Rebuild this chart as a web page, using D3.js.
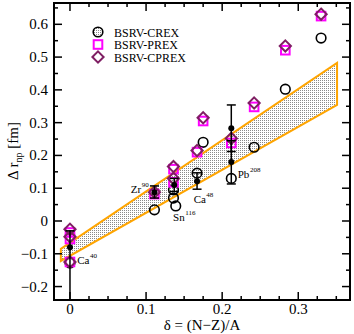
<!DOCTYPE html>
<html><head><meta charset="utf-8">
<script src="https://cdn.jsdelivr.net/npm/d3@7/dist/d3.min.js"></script>
<style>body{margin:0;background:#fff}svg{display:block}text{font-family:"Liberation Serif","Times New Roman",serif}</style>
</head><body>
<svg id="c" width="354" height="334"></svg>
<script>
// ---- data ----
const seriesNames = ["BSRV-CREX", "BSRV-PREX", "BSRV-CPREX"];
const crexX = [0, 0.111, 0.136, 0.136, 0.139, 0.167, 0.175, 0.212, 0.242, 0.283, 0.330];
const crexY = [-0.128, 0.034, 0.095, 0.070, 0.046, 0.146, 0.240, 0.130, 0.225, 0.402, 0.558];
const prexX = [0, 0, 0, 0.111, 0.136, 0.136, 0.167, 0.175, 0.212, 0.242, 0.283, 0.330];
const prexY = [-0.035, -0.055, -0.125, 0.082, 0.158, 0.118, 0.210, 0.305, 0.238, 0.348, 0.521, 0.625];
const cprexX = [0, 0, 0, 0.111, 0.136, 0.136, 0.167, 0.175, 0.212, 0.242, 0.283, 0.330];
const cprexY = [-0.025, -0.048, -0.125, 0.088, 0.166, 0.130, 0.215, 0.315, 0.252, 0.360, 0.534, 0.631];
// experimental values with error bar ends
const expX = [0, 0.111, 0.137, 0.167, 0.212, 0.212];
const expY = [-0.080, 0.088, 0.110, 0.121, 0.283, 0.180];
const expLo = [-0.241, 0.070, 0.090, 0.097, 0.212, 0.113];
const expHi = [-0.030, 0.107, 0.130, 0.147, 0.354, 0.245];
const expCapLo = [false, true, true, true, true, true];
// band (polygon corners)
const bandX = [-0.012, 0.351, 0.351, -0.012];
const bandY = [-0.085, 0.482, 0.354, -0.122];
// nuclei labels
const nucName = ["Ca", "Zr", "Sn", "Ca", "Pb"];
const nucMass = ["40", "90", "116", "48", "208"];
const nucX = [0.0095, 0.080, 0.1355, 0.1625, 0.2205];
const nucY = [-0.130, 0.084, 0.000, 0.055, 0.130];
const xTicks = [0, 0.1, 0.2, 0.3];
const yTicks = [-0.2, -0.1, 0, 0.1, 0.2, 0.3, 0.4, 0.5, 0.6];

// ---- layout ----
const svg = d3.select("#c");
const L = 54, R = 350, T = 3, B = 300;
const x = d3.scaleLinear().domain([-0.021, 0.368]).range([L, R]);
const y = d3.scaleLinear().domain([-0.241, 0.665]).range([B, T]);

const defs = svg.append("defs");
const pat = defs.append("pattern").attr("id", "stip").attr("width", 2).attr("height", 2)
  .attr("patternUnits", "userSpaceOnUse");
pat.append("rect").attr("width", 2).attr("height", 2).attr("fill", "#fff");
pat.append("rect").attr("width", 1).attr("height", 1).attr("fill", "#8a8a8a");
defs.append("clipPath").attr("id", "clip").append("rect")
  .attr("x", L).attr("y", T).attr("width", R - L).attr("height", B - T);

const g = svg.append("g").attr("clip-path", "url(#clip)");

// band
g.append("polygon")
  .attr("points", bandX.map((v, i) => [x(v), y(bandY[i])].join(",")).join(" "))
  .attr("fill", "url(#stip)").attr("stroke", "#ffa500").attr("stroke-width", 2)
  .attr("stroke-linejoin", "miter");

// symbols
const circ = (sel, cx, cy, fill) => sel.append("circle").attr("cx", cx).attr("cy", cy).attr("r", 4.8)
  .attr("fill", fill).attr("stroke", "#000").attr("stroke-width", 1.6);
const sq = (sel, cx, cy) => sel.append("rect").attr("x", cx - 4.3).attr("y", cy - 4.3)
  .attr("width", 8.6).attr("height", 8.6).attr("fill", "none").attr("stroke", "#ff00ff").attr("stroke-width", 2);
const dia = (sel, cx, cy) => sel.append("path")
  .attr("d", `M${cx},${cy - 5.6}L${cx + 5.6},${cy}L${cx},${cy + 5.6}L${cx - 5.6},${cy}Z`)
  .attr("fill", "none").attr("stroke", "#7f1f63").attr("stroke-width", 2);

crexX.forEach((v, i) => circ(g, x(v), y(crexY[i]), "none"));
prexX.forEach((v, i) => sq(g, x(v), y(prexY[i])));
cprexX.forEach((v, i) => dia(g, x(v), y(cprexY[i])));

// experimental
expX.forEach((v, i) => {
  const cx = x(v);
  g.append("line").attr("x1", cx).attr("x2", cx).attr("y1", y(expLo[i])).attr("y2", y(expHi[i]))
    .attr("stroke", "#000").attr("stroke-width", 1.5);
  if (expCapLo[i]) g.append("line").attr("x1", cx - 4.5).attr("x2", cx + 4.5)
    .attr("y1", y(expLo[i])).attr("y2", y(expLo[i])).attr("stroke", "#000").attr("stroke-width", 1.5);
  g.append("line").attr("x1", cx - 4.5).attr("x2", cx + 4.5)
    .attr("y1", y(expHi[i])).attr("y2", y(expHi[i])).attr("stroke", "#000").attr("stroke-width", 1.5);
  g.append("circle").attr("cx", cx).attr("cy", y(expY[i])).attr("r", 3).attr("fill", "#000");
});

// nucleus labels
nucName.forEach((n, i) => {
  const t = svg.append("text").attr("x", x(nucX[i])).attr("y", y(nucY[i]))
    .attr("font-size", 11).attr("fill", "#000");
  t.append("tspan").text(n);
  t.append("tspan").attr("dy", -6).attr("dx", 0.5).attr("font-size", 7).text(nucMass[i]);
});

// axes frame
svg.append("rect").attr("x", L).attr("y", T).attr("width", R - L).attr("height", B - T)
  .attr("fill", "none").attr("stroke", "#000").attr("stroke-width", 2);

const tk = svg.append("g").attr("stroke", "#000").attr("stroke-width", 1.5);
d3.range(0, 0.3501, 0.025).forEach(v => {
  const major = Math.abs(v * 10 - Math.round(v * 10)) < 1e-6;
  const len = major ? 8 : 4, px = x(v);
  tk.append("line").attr("x1", px).attr("x2", px).attr("y1", B).attr("y2", B - len);
  tk.append("line").attr("x1", px).attr("x2", px).attr("y1", T).attr("y2", T + len);
});
d3.range(-0.2, 0.6501, 0.05).forEach(v => {
  const major = Math.abs(v * 10 - Math.round(v * 10)) < 1e-6;
  const len = major ? 8 : 4, py = y(v);
  tk.append("line").attr("x1", L).attr("x2", L + len).attr("y1", py).attr("y2", py);
  tk.append("line").attr("x1", R).attr("x2", R - len).attr("y1", py).attr("y2", py);
});

const fmt = d3.format(".1f");
xTicks.forEach(v => svg.append("text").attr("x", x(v)).attr("y", 314).attr("text-anchor", "middle")
  .attr("font-size", 15).text(v === 0 ? "0" : fmt(v)));
yTicks.forEach(v => svg.append("text").attr("x", 48).attr("y", y(v) + 5).attr("text-anchor", "end")
  .attr("font-size", 15).text(v === 0 ? "0" : fmt(v)));

// axis titles
svg.append("text").attr("x", 202).attr("y", 330).attr("text-anchor", "middle").attr("font-size", 15)
  .text("δ = (N−Z)/A");
const yt = svg.append("text").attr("transform", "translate(18,151) rotate(-90)").attr("text-anchor", "middle")
  .attr("font-size", 15);
yt.append("tspan").text("Δ r");
yt.append("tspan").attr("dy", 4).attr("font-size", 10).text("np");
yt.append("tspan").attr("dy", -4).text(" [fm]");

// legend
const lg = svg.append("g");
const ly = [32, 44.5, 57];
circ(lg, 98, ly[0], "url(#stip)");
sq(lg, 98, ly[1]);
dia(lg, 98, ly[2]);
seriesNames.forEach((s, i) => lg.append("text").attr("x", 114).attr("y", ly[i] + 4.5)
  .attr("font-size", 12).text(s));
</script>
</body></html>
